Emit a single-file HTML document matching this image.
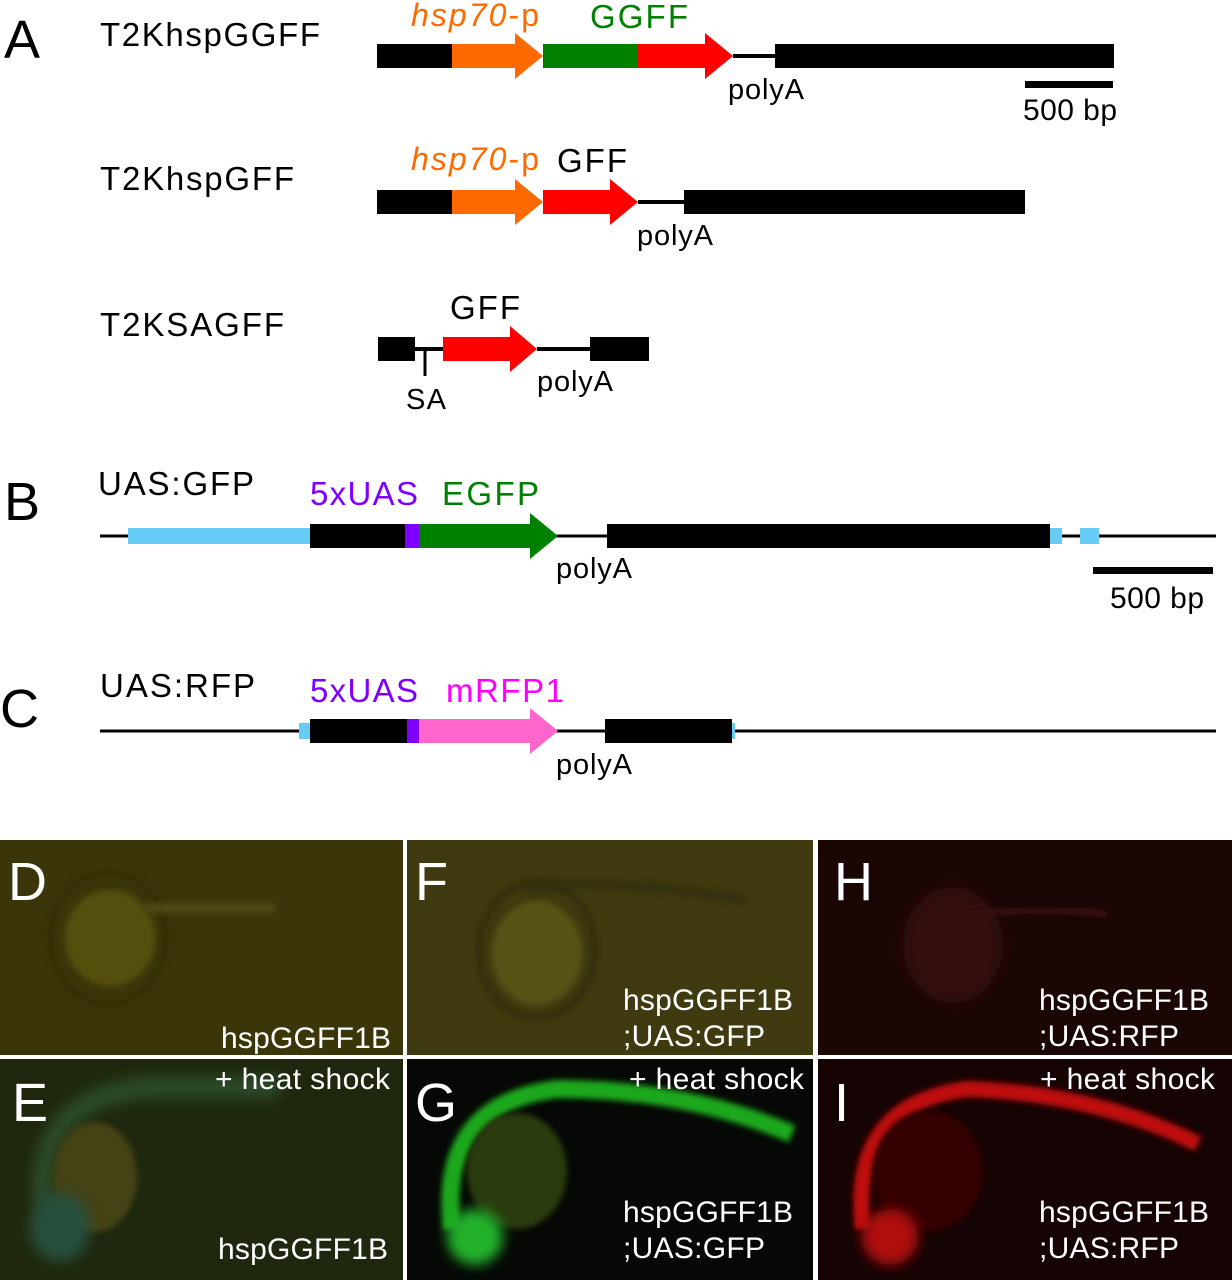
<!DOCTYPE html>
<html><head><style>
html,body{margin:0;padding:0;background:#fff}
svg{display:block}
text{font-family:"Liberation Sans",sans-serif}
</style></head><body>
<svg width="1232" height="1280" viewBox="0 0 1232 1280">
<defs>
<filter id="b" x="-50%" y="-50%" width="200%" height="200%"><feGaussianBlur stdDeviation="6"/></filter>
<filter id="b2" x="-50%" y="-50%" width="200%" height="200%"><feGaussianBlur stdDeviation="3"/></filter>
</defs>
<rect width="1232" height="1280" fill="#fff"/>
<!-- A -->
<text x="4" y="58" font-size="54">A</text>
<text x="100" y="46" font-size="33" textLength="220">T2KhspGGFF</text>
<rect x="377" y="44" width="76" height="24" fill="#000"/>
<polygon points="452,44 515,44 515,33 543,56 515,79 515,68 452,68" fill="#ff6a00"/>
<rect x="543" y="44" width="96" height="24" fill="#008000"/>
<polygon points="638,44 705,44 705,33 733,56 705,79 705,68 638,68" fill="#ff0000"/>
<line x1="733" y1="56" x2="776" y2="56" stroke="#000" stroke-width="4"/>
<rect x="775" y="44" width="339" height="24" fill="#000"/>
<text x="411" y="26" font-size="32" fill="#ff6a00" textLength="128"><tspan font-style="italic">hsp70</tspan>-p</text>
<text x="590" y="28" font-size="33" fill="#008000" textLength="98">GGFF</text>
<text x="728" y="99" font-size="29" textLength="76">polyA</text>
<rect x="1025" y="81" width="88" height="7" fill="#000"/>
<text x="1023" y="120" font-size="30" textLength="94">500 bp</text>

<text x="100" y="190" font-size="33" textLength="194">T2KhspGFF</text>
<rect x="377" y="190" width="76" height="24" fill="#000"/>
<polygon points="452,190 515,190 515,179 543,202 515,225 515,214 452,214" fill="#ff6a00"/>
<polygon points="543,190 610,190 610,179 638,202 610,225 610,214 543,214" fill="#ff0000"/>
<line x1="638" y1="202" x2="685" y2="202" stroke="#000" stroke-width="4"/>
<rect x="684" y="190" width="341" height="24" fill="#000"/>
<text x="411" y="170" font-size="32" fill="#ff6a00" textLength="128"><tspan font-style="italic">hsp70</tspan>-p</text>
<text x="557" y="172" font-size="33" textLength="70">GFF</text>
<text x="637" y="245" font-size="29" textLength="76">polyA</text>

<text x="100" y="336" font-size="33" textLength="184">T2KSAGFF</text>
<rect x="378" y="337" width="37" height="24" fill="#000"/>
<line x1="414" y1="349" x2="444" y2="349" stroke="#000" stroke-width="4"/>
<line x1="425" y1="349" x2="425" y2="376" stroke="#000" stroke-width="3"/>
<polygon points="443,337 510,337 510,326 537,349 510,372 510,361 443,361" fill="#ff0000"/>
<line x1="537" y1="349" x2="591" y2="349" stroke="#000" stroke-width="4"/>
<rect x="590" y="337" width="59" height="24" fill="#000"/>
<text x="450" y="319" font-size="33" textLength="70">GFF</text>
<text x="406" y="409" font-size="29" textLength="40">SA</text>
<text x="537" y="391" font-size="29" textLength="76">polyA</text>

<!-- B -->
<text x="4" y="520" font-size="54">B</text>
<text x="98" y="495" font-size="33" textLength="156">UAS:GFP</text>
<line x1="100" y1="536" x2="1216" y2="536" stroke="#000" stroke-width="3"/>
<rect x="128" y="528" width="182" height="16" fill="#66ccf5"/>
<rect x="310" y="524" width="96" height="24" fill="#000"/>
<rect x="405" y="524" width="14" height="24" fill="#8000ff"/>
<polygon points="419,524 530,524 530,513 558,536 530,559 530,548 419,548" fill="#008000"/>
<rect x="607" y="524" width="443" height="24" fill="#000"/>
<rect x="1050" y="528" width="12" height="16" fill="#66ccf5"/>
<rect x="1080" y="528" width="19" height="16" fill="#66ccf5"/>
<text x="310" y="505" font-size="33" fill="#8000ff" textLength="108">5xUAS</text>
<text x="442" y="505" font-size="33" fill="#008000" textLength="97">EGFP</text>
<text x="556" y="578" font-size="29" textLength="76">polyA</text>
<rect x="1093" y="567" width="120" height="7" fill="#000"/>
<text x="1110" y="608" font-size="30" textLength="94">500 bp</text>

<!-- C -->
<text x="0" y="727" font-size="54">C</text>
<text x="100" y="697" font-size="33" textLength="155">UAS:RFP</text>
<line x1="100" y1="731" x2="1216" y2="731" stroke="#000" stroke-width="3"/>
<rect x="299" y="723" width="11" height="16" fill="#66ccf5"/>
<rect x="310" y="719" width="97" height="24" fill="#000"/>
<rect x="407" y="719" width="12" height="24" fill="#8000ff"/>
<polygon points="419,719 530,719 530,708 558,731 530,754 530,743 419,743" fill="#ff66cc"/>
<rect x="605" y="719" width="127" height="24" fill="#000"/>
<rect x="732" y="723" width="3" height="16" fill="#66ccf5"/>
<text x="310" y="702" font-size="33" fill="#8000ff" textLength="108">5xUAS</text>
<text x="446" y="702" font-size="33" fill="#ff00ff" textLength="118">mRFP1</text>
<text x="556" y="774" font-size="29" textLength="76">polyA</text>

<!-- photos -->
<rect x="0" y="840" width="1232" height="440" fill="#fff"/>
<!-- D -->
<svg x="0" y="840" width="403" height="215"><rect width="403" height="215" fill="#3b3609"/>
<ellipse cx="110" cy="98" rx="45" ry="48" fill="#555010" filter="url(#b2)"/>
<ellipse cx="108" cy="98" rx="58" ry="66" fill="none" stroke="#2c2a0a" stroke-width="3" filter="url(#b2)"/>
<rect x="145" y="63" width="130" height="10" rx="5" fill="#4d4a14" filter="url(#b2)"/>
<text x="221" y="208" font-size="30" fill="#fff" textLength="170">hspGGFF1B</text>
<text x="8" y="60" font-size="54" fill="#fff">D</text></svg>
<!-- F -->
<svg x="407" y="840" width="406" height="215"><rect width="406" height="215" fill="#3f3a0f"/>
<ellipse cx="130" cy="113" rx="45" ry="52" fill="#575214" filter="url(#b2)"/>
<ellipse cx="130" cy="110" rx="58" ry="68" fill="none" stroke="#2a280c" stroke-width="4" filter="url(#b2)"/>
<path d="M120 50 Q180 35 340 60" stroke="#302d0c" stroke-width="8" fill="none" filter="url(#b2)"/>
<text x="216" y="170" font-size="30" fill="#fff" textLength="170">hspGGFF1B</text>
<text x="216" y="206" font-size="30" fill="#fff" textLength="142">;UAS:GFP</text>
<text x="8" y="60" font-size="54" fill="#fff">F</text></svg>
<!-- H -->
<svg x="818" y="840" width="414" height="215"><rect width="414" height="215" fill="#1b0606"/>
<ellipse cx="135" cy="105" rx="50" ry="58" fill="#330909" filter="url(#b)"/>
<path d="M150 75 Q230 65 290 75" stroke="#350a0a" stroke-width="8" fill="none" filter="url(#b2)"/>
<text x="221" y="170" font-size="30" fill="#fff" textLength="170">hspGGFF1B</text>
<text x="221" y="206" font-size="30" fill="#fff" textLength="140">;UAS:RFP</text>
<text x="16" y="60" font-size="54" fill="#fff">H</text></svg>
<!-- E -->
<svg x="0" y="1059" width="403" height="221"><rect width="403" height="221" fill="#1f280e"/>
<path d="M45 150 Q30 40 150 28 L280 28" stroke="#2a4a28" stroke-width="22" fill="none" filter="url(#b)"/>
<ellipse cx="95" cy="118" rx="42" ry="55" fill="#444312" filter="url(#b2)"/>
<ellipse cx="60" cy="168" rx="30" ry="34" fill="#26503c" filter="url(#b)"/>
<text x="215" y="30" font-size="30" fill="#fff" textLength="175">+ heat shock</text>
<text x="218" y="200" font-size="30" fill="#fff" textLength="170">hspGGFF1B</text>
<text x="12" y="62" font-size="54" fill="#fff">E</text></svg>
<!-- G -->
<svg x="407" y="1059" width="406" height="221"><rect width="406" height="221" fill="#050805"/>
<path d="M45 170 Q30 45 150 30 Q280 30 385 75" stroke="#1fa81f" stroke-width="18" fill="none" filter="url(#b2)"/>
<ellipse cx="110" cy="112" rx="50" ry="58" fill="#2c3a0c" filter="url(#b2)"/>
<ellipse cx="68" cy="178" rx="28" ry="28" fill="#22b02a" filter="url(#b)"/>
<text x="222" y="30" font-size="30" fill="#fff" textLength="175">+ heat shock</text>
<text x="216" y="163" font-size="30" fill="#fff" textLength="170">hspGGFF1B</text>
<text x="216" y="199" font-size="30" fill="#fff" textLength="142">;UAS:GFP</text>
<text x="8" y="62" font-size="54" fill="#fff">G</text></svg>
<!-- I -->
<svg x="818" y="1059" width="414" height="221"><rect width="414" height="221" fill="#160303"/>
<path d="M45 170 Q30 45 150 30 Q280 35 380 85" stroke="#c01010" stroke-width="16" fill="none" filter="url(#b2)"/>
<ellipse cx="110" cy="112" rx="55" ry="60" fill="#360606" filter="url(#b2)"/>
<ellipse cx="72" cy="178" rx="28" ry="28" fill="#b01010" filter="url(#b)"/>
<text x="222" y="30" font-size="30" fill="#fff" textLength="175">+ heat shock</text>
<text x="221" y="163" font-size="30" fill="#fff" textLength="170">hspGGFF1B</text>
<text x="221" y="199" font-size="30" fill="#fff" textLength="140">;UAS:RFP</text>
<text x="16" y="62" font-size="54" fill="#fff">I</text></svg>
</svg>
</body></html>
